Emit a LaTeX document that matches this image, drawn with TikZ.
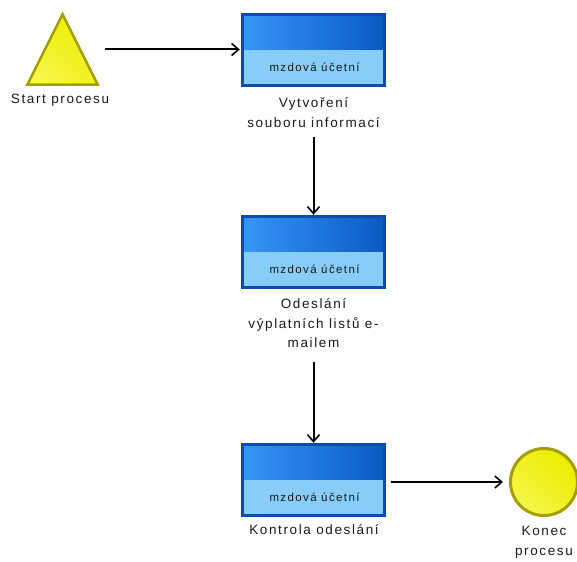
\documentclass[tikz,border=0pt]{standalone}
\usepackage{fontspec}
\setmainfont{Liberation Sans}
\newfontfamily\lblfont{Liberation Sans}[LetterSpace=12]
\newfontfamily\boxfont{Liberation Sans}[LetterSpace=12]
\usetikzlibrary{arrows.meta,calc}
\definecolor{bordblue}{HTML}{0B4DA8}
\definecolor{topL}{HTML}{3696F6}
\definecolor{topR}{HTML}{0A5AC2}
\definecolor{lowblue}{HTML}{88CCF8}
\definecolor{yelL}{HTML}{F6F64A}
\definecolor{yelR}{HTML}{ECEC00}
\definecolor{olive}{HTML}{A49E00}
\definecolor{txt}{HTML}{1A1A1A}
\tikzset{
  taskbox/.style={minimum width=142pt, minimum height=71pt, inner sep=0pt, draw=none},
  boxtext/.style={font=\boxfont\fontsize{11.5pt}{12pt}\selectfont, text=txt, inner sep=0pt},
  lbl/.style={font=\lblfont\fontsize{13.5pt}{19.5pt}\selectfont, text=txt, align=center, inner sep=0pt},
  flow/.style={draw=black, line width=2pt, -{Straight Barb[length=7pt,width=12pt,line width=1.6pt]}},
  yel/.style={draw=olive, line width=2.5pt, left color=yelL, right color=yelR, shading angle=135}
}
\newcommand{\taskdeco}[1]{%
  \shade[left color=topL, right color=topR] (#1.north west) rectangle (#1.east);
  \fill[lowblue] (#1.west) rectangle (#1.south east);
  \draw[bordblue, line width=3pt] (#1.north west) rectangle (#1.south east);
}
\begin{document}
\begin{tikzpicture}[x=1pt,y=-1pt]
\useasboundingbox (0,0) rectangle (577,561);
% start triangle
\node[minimum width=70pt, minimum height=70pt, inner sep=0pt] (start) at (62.5,49.5) {};
\path[yel] (start.north) -- (start.south west) -- (start.south east) -- cycle;
\node[lbl] (startlbl) at (60,100) {Start procesu};
% tasks
\node[taskbox] (b1) at (313.5,50) {};
\taskdeco{b1}
\node[boxtext] (t1) at ($(b1.center)+(1,17)$) {mzdová účetní};
\node[lbl] (l1) at (313.5,112.5) {Vytvoření\\souboru informací};

\node[taskbox] (b2) at (313.5,252) {};
\taskdeco{b2}
\node[boxtext] (t2) at ($(b2.center)+(1,17)$) {mzdová účetní};
\node[lbl] (l2) at (313.5,323.5) {Odeslání\\výplatních listů e-\\mailem};

\node[taskbox] (b3) at (313.5,480) {};
\taskdeco{b3}
\node[boxtext] (t3) at ($(b3.center)+(1,17)$) {mzdová účetní};
\node[lbl] (l3) at (314,530) {Kontrola odeslání};
% end circle
\node[circle, minimum size=67pt, inner sep=0pt, yel, line width=3pt] (end) at (544,482) {};
\node[lbl] (endlbl) at (544,542) {Konec\\procesu};
% connectors
\draw[flow, shorten <=7pt, shorten >=2.5pt] (start.east) -- (start.east -| b1.west);
\draw[flow, shorten <=51.5pt, shorten >=1.5pt] (b1.south) -- (b2.north);
\draw[flow, shorten <=74.5pt, shorten >=1.5pt] (b2.south) -- (b3.north);
\draw[flow, shorten <=6pt, shorten >=6pt] (end.west -| b3.east) -- (end.west);
\end{tikzpicture}
\end{document}
